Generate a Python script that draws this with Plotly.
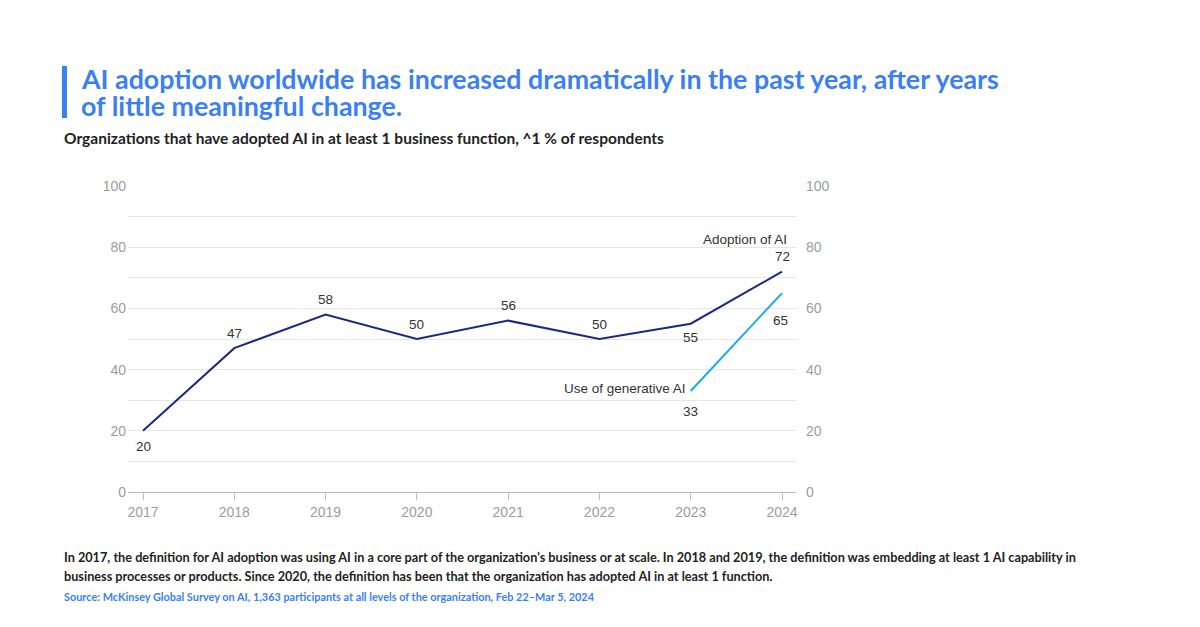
import plotly.graph_objects as go

years = [2017, 2018, 2019, 2020, 2021, 2022, 2023, 2024]
adoption = [20, 47, 58, 50, 56, 50, 55, 72]
genai_years = [2023, 2024]
genai = [33, 65]
y_ticks = [0, 20, 40, 60, 80, 100]

# label offsets in pixels (style only): positive = above the point
adoption_label_shift = [-16, 15, 15, 15, 15, 15, -14, 15]
genai_label_shift = [-20, -27]
genai_label_xshift = [0, -2]

NAVY = "#1b2a7f"
LIGHT = "#1fa8f1"
BLUE = "#3b7ff5"
TXT = "#333333"
GRAY = "#9d9d9d"

# plot area in page pixels
PL, PR, PT, PB = 128, 796, 186, 492
PW, PH = PR - PL, PB - PT


def px(x):
    return (x - PL) / PW


def py(y):
    return (PB - y) / PH


fig = go.Figure()
fig.add_trace(go.Scatter(x=years, y=adoption, mode="lines",
                         line=dict(color=NAVY, width=2), hoverinfo="x+y"))
fig.add_trace(go.Scatter(x=genai_years, y=genai, mode="lines",
                         line=dict(color=LIGHT, width=2), hoverinfo="x+y"))
fig.add_trace(go.Scatter(x=[years[0]], y=[0], yaxis="y2", mode="markers",
                         marker=dict(opacity=0), hoverinfo="skip"))

LBL = dict(family="Liberation Sans, Arial", size=13.5, color=TXT)
for x, y, s in zip(years, adoption, adoption_label_shift):
    fig.add_annotation(x=x, y=y, text=str(y), showarrow=False, yshift=s, font=LBL)
for x, y, s, xs in zip(genai_years, genai, genai_label_shift, genai_label_xshift):
    fig.add_annotation(x=x, y=y, text=str(y), showarrow=False, yshift=s, xshift=xs, font=LBL)

fig.add_annotation(x=years[-1], y=adoption[-1], text="Adoption of AI", showarrow=False,
                   xanchor="right", xshift=7, yshift=32, font=LBL)
fig.add_annotation(x=genai_years[0], y=genai[0], text="Use of generative AI", showarrow=False,
                   xanchor="right", xshift=-3, yshift=3, font=LBL)

# Title block
fig.add_shape(type="rect", xref="paper", yref="paper",
              x0=px(62), x1=px(67), y0=py(118), y1=py(66),
              fillcolor=BLUE, line=dict(width=0))
TITLE = dict(family="Lato", size=26.8, color=BLUE, weight=700)
for t, yc in [("AI adoption worldwide has increased dramatically in the past year, after years", 79),
              ("of little meaningful change.", 106)]:
    fig.add_annotation(xref="paper", yref="paper", x=px(79), y=py(yc),
                       xanchor="left", yanchor="middle", align="left", showarrow=False,
                       text=t, font=TITLE)
fig.add_annotation(xref="paper", yref="paper", x=px(62), y=py(138),
                   xanchor="left", yanchor="middle", align="left", showarrow=False,
                   text="Organizations that have adopted AI in at least 1 business function, ^1 % of respondents",
                   font=dict(family="Lato", size=15.5, color="#222222", weight=700))
NOTE = dict(family="Lato", size=12.7, color="#222222", weight=700)
for t, yc in [("In 2017, the definition for AI adoption was using AI in a core part of the organization's business or at scale. In 2018 and 2019, the definition was embedding at least 1 AI capability in", 557),
              ("business processes or products. Since 2020, the definition has been that the organization has adopted AI in at least 1 function.", 576)]:
    fig.add_annotation(xref="paper", yref="paper", x=px(62), y=py(yc),
                       xanchor="left", yanchor="middle", align="left", showarrow=False,
                       text=t, font=NOTE)
fig.add_annotation(xref="paper", yref="paper", x=px(62), y=py(596),
                   xanchor="left", yanchor="middle", align="left", showarrow=False,
                   text="Source: McKinsey Global Survey on AI, 1,363 participants at all levels of the organization, Feb 22–Mar 5, 2024",
                   font=dict(family="Lato", size=10.9, color=BLUE, weight=700))

x0 = 2017 - 15 / (639 / 7)
x1 = 2024 + 14 / (639 / 7)

AX = dict(family="Liberation Sans, Arial", size=14, color=GRAY)
OFF = 8  # page offset of the figure
fig.update_layout(
    width=1200, height=627,
    margin=dict(l=PL - OFF, r=1200 - PR + OFF, t=PT - OFF, b=627 - PB + OFF),
    paper_bgcolor="white", plot_bgcolor="white",
    showlegend=False,
    xaxis=dict(range=[x0, x1], tickvals=years, showgrid=False, zeroline=False,
               showline=True, linecolor="#bdbdbd", linewidth=1,
               ticks="outside", ticklen=7, tickcolor="#bdbdbd", tickfont=AX),
    yaxis=dict(range=[0, 100], tickvals=y_ticks, showgrid=True, gridcolor="#e6e6e6",
               zeroline=False, ticklabelstandoff=1,
               minor=dict(dtick=10, showgrid=True, gridcolor="#e6e6e6"),
               tickfont=AX),
    yaxis2=dict(range=[0, 100], tickvals=y_ticks, overlaying="y", side="right",
                showgrid=False, zeroline=False, ticklabelstandoff=9,
                tickfont=AX),
)

fig.write_html("out.html")
